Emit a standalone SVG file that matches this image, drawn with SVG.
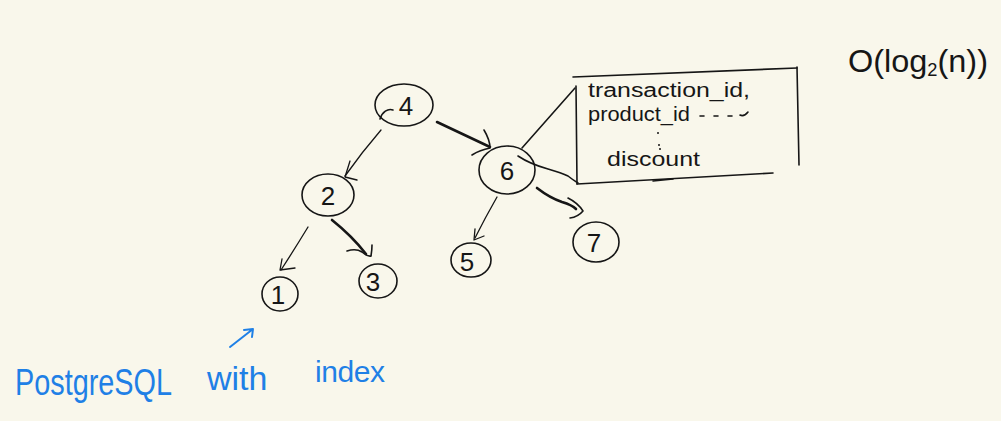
<svg xmlns="http://www.w3.org/2000/svg" width="1001" height="421" viewBox="0 0 1001 421">
<style>
.bg{fill:#f9f7eb}
.n{fill:none;stroke:#161616;stroke-width:1.6;stroke-linecap:round;stroke-linejoin:round}
.thin{fill:none;stroke:#161616;stroke-width:1.3;stroke-linecap:round;stroke-linejoin:round}
.thick{fill:none;stroke:#161616;stroke-width:2.6;stroke-linecap:round;stroke-linejoin:round}
.lbl{font-family:"Liberation Sans",Arial,sans-serif;font-size:26px;fill:#161616;text-anchor:middle}
.box{font-family:"Liberation Sans",Arial,sans-serif;font-size:20px;fill:#161616}
.blue{font-family:"Liberation Sans",Arial,sans-serif;font-size:36px;fill:#1f80e6}
.bl{fill:none;stroke:#1f80e6;stroke-width:2;stroke-linecap:round;stroke-linejoin:round}
</style>
<rect class="bg" x="0" y="0" width="1001" height="421"/>

<g id="connectors">
  <!-- 4 -> 2 -->
  <path class="thin" d="M381,130 Q362,152 345,176"/>
  <path class="thin" d="M350,161 L345,177 L357,180"/>
  <!-- 4 -> 6 -->
  <path class="thick" d="M437,122 L490,147"/>
  <path class="n" d="M484,130 Q490,140 490,148 Q480,150 472,155"/>
  <!-- 2 -> 1 -->
  <path class="thin" d="M308,227 Q294,250 281,270"/>
  <path class="thin" d="M282,259 L280,270 L295,268"/>
  <!-- 2 -> 3 -->
  <path class="thick" d="M332,220 Q352,236 366,254"/>
  <path class="n" d="M347,251 Q356,248 362,252 Q368,257 371,256 Q372,250 372,245"/>
  <!-- 6 -> 5 -->
  <path class="thin" d="M497,197 Q485,218 475,238"/>
  <path class="thin" d="M475,229 L474,240 L484,236"/>
  <!-- 6 -> 7 -->
  <path class="thick" d="M537,188 Q550,198 562,202 Q572,205 576,209"/>
  <path class="n" d="M568,198 Q578,203 583,211 Q578,217 570,218"/>
  <!-- 6 -> record box -->
  <path class="n" d="M522,148 L575,88"/>
  <path class="n" d="M518,156 Q530,164 548,169 Q562,173 568,176 Q573,180 578,183"/>
</g>

<g id="node-4">
  <ellipse class="n" cx="404" cy="105" rx="29" ry="21"/>
  <path class="n" d="M380,119 C382,112 388,108 393,110"/>
  <text class="lbl" x="406" y="115">4</text>
</g>
<g id="node-2">
  <ellipse class="n" cx="328" cy="195" rx="26" ry="21"/>
  <text class="lbl" x="328" y="205">2</text>
</g>
<g id="node-6">
  <ellipse class="n" cx="507" cy="170" rx="28" ry="24"/>
  <text class="lbl" x="507" y="180">6</text>
</g>
<g id="node-1">
  <ellipse class="n" cx="280" cy="294" rx="18" ry="17"/>
  <text class="lbl" x="278" y="304">1</text>
</g>
<g id="node-3">
  <ellipse class="n" cx="378" cy="281" rx="19" ry="17"/>
  <text class="lbl" x="373" y="291">3</text>
</g>
<g id="node-5">
  <ellipse class="n" cx="471" cy="260" rx="20" ry="17"/>
  <text class="lbl" x="467" y="271">5</text>
</g>
<g id="node-7">
  <ellipse class="n" cx="596" cy="242" rx="23" ry="20"/>
  <text class="lbl" x="594" y="252">7</text>
</g>

<g id="record-box">
  <path class="n" d="M573,77 L797,68"/>
  <path class="n" d="M576,86 L577,184"/>
  <path class="n" d="M797,67 L799,165"/>
  <path class="n" d="M577,184 Q680,178 773,173"/>
  <path class="n" d="M653,181 L673,179"/>
  <text class="box" x="588" y="97" textLength="162" lengthAdjust="spacingAndGlyphs">transaction_id,</text>
  <text class="box" x="588" y="121" textLength="102" lengthAdjust="spacingAndGlyphs">product_id</text>
  <path class="n" d="M700,116 L704,116 M714,116 L718,116 M728,116 L732,116 M740,115 Q744,117 748,112"/>
  <circle cx="658" cy="133" r="1" fill="#161616"/>
  <circle cx="659" cy="145" r="1" fill="#161616"/>
  <circle cx="660" cy="149" r="1" fill="#161616"/>
  <text class="box" x="607" y="166" textLength="93" lengthAdjust="spacingAndGlyphs">discount</text>
</g>

<g id="complexity">
  <text class="box" x="848" y="72" style="font-size:32px" textLength="140" lengthAdjust="spacingAndGlyphs">O(log<tspan dy="4" style="font-size:18px">2</tspan><tspan dy="-4">(n))</tspan></text>
</g>

<g id="caption">
  <text class="blue" x="15" y="395" textLength="157" lengthAdjust="spacingAndGlyphs">PostgreSQL</text>
  <text class="blue" x="207" y="390" style="font-size:34px">with</text>
  <text class="blue" x="315" y="382" style="font-size:30px" textLength="70" lengthAdjust="spacing">index</text>
  <path class="bl" d="M230,347 L253,329 M244,330 L253,329 L252,337"/>
</g>
</svg>
